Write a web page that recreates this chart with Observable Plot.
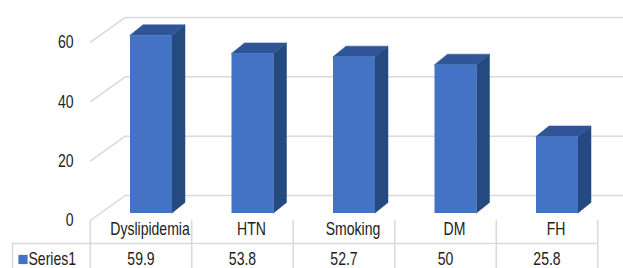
<!DOCTYPE html>
<html><head><meta charset="utf-8">
<script src="https://cdn.jsdelivr.net/npm/d3@7"></script>
<script src="https://cdn.jsdelivr.net/npm/@observablehq/plot@0.6"></script>
<style>body{margin:0;background:#fff}</style>
</head><body><div id="chart"></div>
<script>
const categories = ["Dyslipidemia", "HTN", "Smoking", "DM", "FH"];
const values = [59.9, 53.8, 52.7, 50, 25.8];
const yTicks = [0, 20, 40, 60];
const seriesName = "Series1";

const W = 623, H = 268;
const PX = 101.5, X0 = 140.5;   // pixels per category, pixel of first column centre
const PY = 2.967, Y0 = 220;     // pixels per value unit, pixel of value 0 (front)
const ux = p => p / PX, uy = p => p / PY;
const xDomain = [-X0 / PX, (W - X0) / PX];
const yDomain = [(Y0 - H) / PY, Y0 / PY];

const WDX = ux(35), WDY = uy(25);          // wall depth
const BOX = ux(10.5), BOY = uy(7);         // bar offset into depth
const HW = ux(21);                         // bar half width
const BDX = ux(13), BDY = uy(10.5);        // bar depth
const ROW_SPLIT = uy(-23), LEFT = ux(12 - X0);
const LABEL_Y = uy(-8.5), VALUE_Y = uy(-39);

const FRONT = "#4472c4", SIDE = "#244a80", TOP = "#2f5597", GRID = "#d9d9d9";

const bars = categories.map((c, i) => ({c, i, v: values[i]}));
const sidePts = bars.flatMap(d => [
  {c: d.c, x: d.i + BOX + HW, y1: BOY, y2: d.v + BOY},
  {c: d.c, x: d.i + BOX + HW + BDX, y1: BOY + BDY, y2: d.v + BOY + BDY}
]);
const topPts = bars.flatMap(d => [
  {c: d.c, y: d.v + BOY, x1: d.i + BOX - HW, x2: d.i + BOX + HW},
  {c: d.c, y: d.v + BOY + BDY, x1: d.i + BOX - HW + BDX, x2: d.i + BOX + HW + BDX}
]);
const bounds = d3.range(-0.5, categories.length, 1);

const chart = Plot.plot({
  width: W, height: H, margin: 0,
  x: {domain: xDomain, axis: null},
  y: {domain: yDomain, axis: null},
  style: {fontFamily: "'Liberation Sans', Arial, sans-serif", fontSize: "18px", color: "#222", background: "#fff"},
  marks: [
    Plot.ruleY(yTicks, {y: d => d + WDY, x1: () => -0.5 + WDX, x2: () => xDomain[1], stroke: GRID, strokeWidth: 1.5}),
    Plot.link(yTicks, {x1: () => -0.5, y1: d => d, x2: () => -0.5 + WDX, y2: d => d + WDY, stroke: GRID, strokeWidth: 1.5}),
    Plot.areaY(sidePts, {x: "x", y1: "y1", y2: "y2", z: "c", fill: SIDE, stroke: SIDE, strokeWidth: 0.5}),
    Plot.areaX(topPts, {y: "y", x1: "x1", x2: "x2", z: "c", fill: TOP, stroke: TOP, strokeWidth: 0.5}),
    Plot.rect(bars, {x1: d => d.i + BOX - HW, x2: d => d.i + BOX + HW, y1: () => BOY, y2: d => d.v + BOY, fill: FRONT}),
    Plot.text(yTicks, {x: () => ux(73 - X0), y: d => d, text: d => String(d), textAnchor: "end"}),
    Plot.ruleX(bounds, {x: d => d, y1: () => 0, y2: () => yDomain[0], stroke: GRID, strokeWidth: 1.5}),
    Plot.ruleX([LEFT], {x: d => d, y1: () => ROW_SPLIT, y2: () => yDomain[0], stroke: GRID, strokeWidth: 1.5}),
    Plot.ruleY([ROW_SPLIT], {y: d => d, x1: () => LEFT, x2: () => bounds[bounds.length - 1], stroke: GRID, strokeWidth: 1.5}),
    Plot.text(bars, {x: d => d.i + ux(9), y: () => LABEL_Y, text: "c"}),
    Plot.text(bars, {x: d => d.i, y: () => VALUE_Y, text: d => String(d.v)}),
    Plot.dot([seriesName], {x: () => ux(22.5 - X0), y: () => VALUE_Y, symbol: "square", r: 5.2, fill: FRONT, stroke: "none"}),
    Plot.text([seriesName], {x: () => ux(28 - X0), y: () => VALUE_Y, text: d => d, textAnchor: "start"})
  ]
});
// narrow the lettering (Arial Narrow look) around each text's own anchor
chart.querySelectorAll("text").forEach(t => {
  const tr = t.getAttribute("transform");
  if (tr && tr.includes("translate")) t.setAttribute("transform", tr + " scale(0.78,1)");
  else {
    const x = +(t.getAttribute("x") || 0), y = +(t.getAttribute("y") || 0);
    t.removeAttribute("x"); t.removeAttribute("y");
    t.setAttribute("transform", (tr ? tr + " " : "") + `translate(${x},${y}) scale(0.78,1)`);
  }
});
document.getElementById("chart").append(chart);
</script>
</body></html>
